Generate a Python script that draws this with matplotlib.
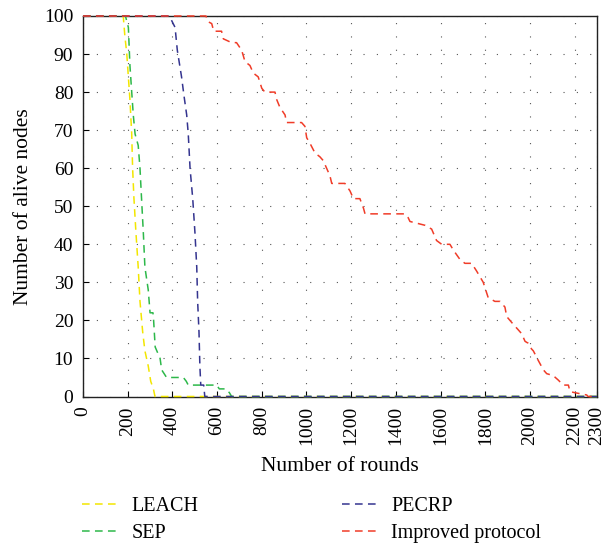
import matplotlib
matplotlib.use("Agg")
import matplotlib.pyplot as plt
from matplotlib.lines import Line2D

plt.rcParams['font.family'] = ['Liberation Serif', 'DejaVu Serif']

leach_x = [0, 180, 187, 196, 203, 210, 218, 222, 228, 237, 247, 255, 267, 277, 292, 303, 315, 322, 2300]
leach_y = [100, 100, 95, 90, 84, 78, 69, 60, 52, 43, 34, 25, 17, 12, 8, 4, 2, 0, 0]

sep_x = [0, 190, 203, 210, 218, 225, 233, 247, 255, 262, 270, 277, 292, 300, 313, 316, 323, 345, 352, 374,
         449, 462, 471, 598, 610, 640, 655, 665, 2300]
sep_y = [100, 100, 97, 87, 80, 74, 69, 66, 60, 52, 43, 34, 28, 22, 22, 20, 13, 10, 7, 5,
         5, 4, 3, 3, 2, 2, 1, 0, 0]

pecrp_x = [0, 385, 395, 412, 422, 441, 452, 464, 471, 479, 491, 501, 509, 513, 519, 523, 527, 540, 545, 2300]
pecrp_y = [100, 100, 99, 97, 91, 84, 79, 74, 69, 60, 52, 43, 34, 25, 17, 8, 3, 3, 0, 0]

imp_x = [0, 550, 560, 576, 585, 598, 620, 628, 665, 687,
         710, 725, 747, 762, 784, 800, 814, 859, 867, 881,
         904, 911, 978, 993, 1001, 1016, 1038, 1060, 1075, 1090,
         1105, 1113, 1172, 1195, 1210, 1239, 1255, 1262, 1440, 1455,
         1463, 1530, 1560, 1582, 1605, 1642, 1657, 1687, 1709, 1739,
         1761, 1776, 1791, 1813, 1843, 1866, 1888, 1896, 1925, 1948,
         1963, 1978, 1992, 2007, 2015, 2037, 2060, 2075, 2104, 2127,
         2149, 2172, 2179, 2201, 2254, 2260, 2300]
imp_y = [100, 100, 98.5, 98, 96, 96, 96, 94, 93, 93,
         91, 88, 87, 85, 84, 81, 80, 80, 78, 76,
         74, 72, 72, 71, 68, 66.5, 64, 63, 62, 60,
         58, 56, 56, 54, 52, 52, 49.5, 48, 48, 47,
         46, 45, 44, 41, 40, 40, 38.5, 36, 35, 35,
         33, 31.5, 30, 26, 25, 25, 23.5, 21, 19, 17.5,
         16.5, 14.5, 14, 12.5, 12, 9.5, 7, 6, 5.5, 4.3,
         3, 3, 1.3, 1, 0.4, 0, 0]

x_ticks = [0, 200, 400, 600, 800, 1000, 1200, 1400, 1600, 1800, 2000, 2200, 2300]
y_ticks = [0, 10, 20, 30, 40, 50, 60, 70, 80, 90, 100]

series = [
    ("LEACH", leach_x, leach_y, "#f2e600"),
    ("SEP", sep_x, sep_y, "#2db84a"),
    ("PECRP", pecrp_x, pecrp_y, "#34348f"),
    ("Improved protocol", imp_x, imp_y, "#f03c28"),
]

fig = plt.figure(figsize=(6.04, 5.45), dpi=100)
ax = fig.add_axes([83/604, 1-396.5/545, (597-83)/604, (396.5-16)/545])

dash = (0, (5, 3.5))
for name, xs, ys, c in series:
    ax.plot(xs, ys, color=c, lw=1.1, linestyle=dash, label=name, zorder=3, clip_on=False)

ax.set_xlim(0, 2300)
ax.set_ylim(0, 100)
ax.set_xticks(x_ticks)
ax.set_xticklabels([str(t) for t in x_ticks], rotation=90)
ax.set_yticks(y_ticks)
ax.tick_params(direction='in', labelsize=14, length=4, width=0.8, top=False, right=False, pad=7)
ax.grid(True, color='#555555', linestyle=(0, (1, 11)), linewidth=0.8)
for s in ax.spines.values():
    s.set_linewidth(1.0)
    s.set_color('#222222')
ax.set_xlabel("Number of rounds", fontsize=15.5, labelpad=8)
ax.set_ylabel("Number of alive nodes", fontsize=15.5, labelpad=8)

handles = [Line2D([0], [0], color=c, lw=1.1, linestyle=dash) for _, _, _, c in series]
names = [n for n, _, _, _ in series]
kw = dict(frameon=False, fontsize=14.5, handlelength=1.75, handletextpad=0.7,
          labelspacing=0.38, borderpad=0, borderaxespad=0, loc='upper left')
leg1 = fig.legend(handles[:2], names[:2], bbox_to_anchor=(82/604, 1-497/545), **kw)
leg2 = fig.legend(handles[2:], names[2:], bbox_to_anchor=(342/604, 1-497/545), **kw)

fig.savefig("out.png", dpi=100)
